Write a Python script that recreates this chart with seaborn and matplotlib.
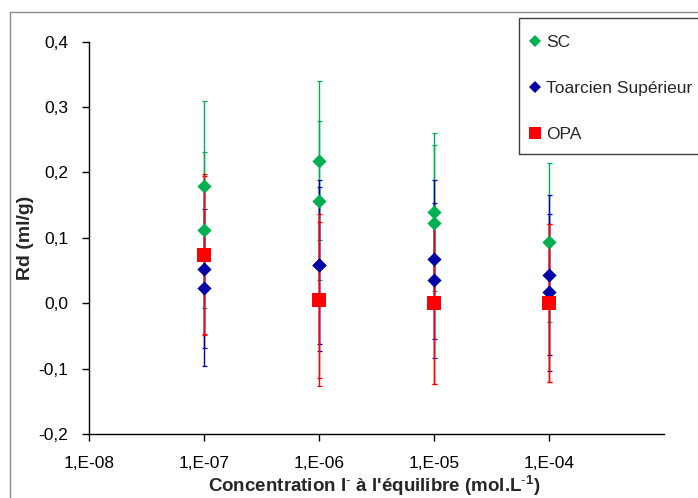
import numpy as np
import pandas as pd
import matplotlib
matplotlib.use("Agg")
import matplotlib.pyplot as plt
import seaborn as sns
from matplotlib.lines import Line2D
from matplotlib.patches import Rectangle

# ---------------- data ----------------
series_names = ["SC", "Toarcien Supérieur", "OPA"]

sc_conc = [1e-7, 1e-7, 1e-6, 1e-6, 1e-5, 1e-5, 1e-4]
sc_rd = [0.180, 0.112, 0.218, 0.157, 0.139, 0.122, 0.093]
sc_err = [0.130, 0.120, 0.122, 0.121, 0.121, 0.120, 0.121]

ts_conc = [1e-7, 1e-7, 1e-6, 1e-6, 1e-5, 1e-5, 1e-4, 1e-4]
ts_rd = [0.053, 0.024, 0.058, 0.058, 0.067, 0.035, 0.043, 0.017]
ts_err = [0.122, 0.120, 0.131, 0.120, 0.122, 0.119, 0.122, 0.120]

opa_conc = [1e-7, 1e-7, 1e-6, 1e-6, 1e-5, 1e-5, 1e-4, 1e-4]
opa_rd = [0.074, 0.074, 0.005, 0.005, 0.000, 0.000, 0.000, 0.000]
opa_err = [0.123, 0.121, 0.131, 0.120, 0.123, 0.123, 0.121, 0.121]

x_ticks = [1e-8, 1e-7, 1e-6, 1e-5, 1e-4]
x_ticklabels = ["1,E-08", "1,E-07", "1,E-06", "1,E-05", "1,E-04"]
y_ticks = [-0.2, -0.1, 0.0, 0.1, 0.2, 0.3, 0.4]
y_ticklabels = ["-0,2", "-0,1", "0,0", "0,1", "0,2", "0,3", "0,4"]

colors = {"SC": "#00B050", "Toarcien Supérieur": "#0000A8", "OPA": "#FF0000"}
markers = {"SC": "D", "Toarcien Supérieur": "D", "OPA": "s"}
msizes = {"SC": 52, "Toarcien Supérieur": 52, "OPA": 100}

frames = []
for name, cx, ry, ee in [("SC", sc_conc, sc_rd, sc_err),
                         ("Toarcien Supérieur", ts_conc, ts_rd, ts_err),
                         ("OPA", opa_conc, opa_rd, opa_err)]:
    frames.append(pd.DataFrame({"conc": cx, "rd": ry, "err": ee, "serie": name}))
df = pd.concat(frames, ignore_index=True)

# ---------------- figure ----------------
sns.set_style("white")
plt.rcParams["font.family"] = ["Liberation Sans", "DejaVu Sans"]
plt.rcParams["mathtext.fontset"] = "custom"
plt.rcParams["mathtext.rm"] = "Liberation Sans"
plt.rcParams["mathtext.bf"] = "Liberation Sans:bold"

W, H = 698, 498
fig = plt.figure(figsize=(W / 100, H / 100), dpi=100)
ax_l, ax_r, ax_t, ax_b = 89, 664, 41.7, 434
ax = fig.add_axes([ax_l / W, 1 - ax_b / H, (ax_r - ax_l) / W, (ax_b - ax_t) / H])

# error bars
for name in series_names:
    d = df[df["serie"] == name]
    ax.errorbar(d["conc"], d["rd"], yerr=d["err"], fmt="none",
                ecolor=colors[name], elinewidth=1.0, capsize=1.8,
                capthick=0.9, zorder=2)

# markers
for name in series_names:
    d = df[df["serie"] == name]
    sns.scatterplot(data=d, x="conc", y="rd", ax=ax, color=colors[name],
                    marker=markers[name], s=msizes[name], linewidth=0,
                    legend=False, zorder=3)

ax.set_xscale("log")
ax.set_xlim(1e-8, 1e-3)
ax.set_ylim(-0.2, 0.4)
ax.set_xticks(x_ticks)
ax.set_xticklabels(x_ticklabels)
ax.xaxis.set_minor_locator(matplotlib.ticker.NullLocator())
ax.set_yticks(y_ticks)
ax.set_yticklabels(y_ticklabels)
ax.tick_params(axis="both", which="major", direction="out", length=5,
               width=1, color="black", labelsize=12.5, labelcolor="black",
               bottom=True, left=True)
ax.tick_params(axis="x", pad=11)
ax.tick_params(axis="y", pad=10)
ax.set_xlabel("")
ax.set_ylabel("")

for s in ["top", "right"]:
    ax.spines[s].set_visible(False)
for s in ["left", "bottom"]:
    ax.spines[s].set_color("black")
    ax.spines[s].set_linewidth(1.0)
ax.grid(False)

fig.text(374 / W, 1 - 486 / H,
         r"Concentration I$^{\mathbf{\text{-}}}$ à l'équilibre (mol.L$^{\mathbf{\text{-}1}}$)",
         fontsize=13.5, fontweight="bold", ha="center", va="center")
fig.text(25 / W, 1 - 238 / H, "Rd (ml/g)", fontsize=14, fontweight="bold",
         ha="center", va="center", rotation=90)

# legend
handles = [Line2D([], [], linestyle="none", marker=markers[n],
                  color=colors[n], markersize=(6 if n != "OPA" else 8),
                  markeredgewidth=0) for n in series_names]
leg = fig.legend(handles, series_names, loc="upper left",
                 bbox_to_anchor=(530 / W, 1 - 35 / H), frameon=False,
                 fontsize=12.5, borderpad=0, handlelength=0.6,
                 handletextpad=0.35, labelspacing=1.78, borderaxespad=0)
fig.add_artist(Rectangle((519 / W, 1 - 154 / H), 220 / W, (154 - 18) / H,
                         transform=fig.transFigure, fill=False,
                         edgecolor="#404040", linewidth=1.0))

# outer chart frame
fig.add_artist(Line2D([10 / W, 10 / W, 1.05], [-0.05, 1 - 12 / H, 1 - 12 / H],
                      transform=fig.transFigure, color="#8a8a8a", linewidth=1.0))

fig.savefig("out.png", dpi=100)
